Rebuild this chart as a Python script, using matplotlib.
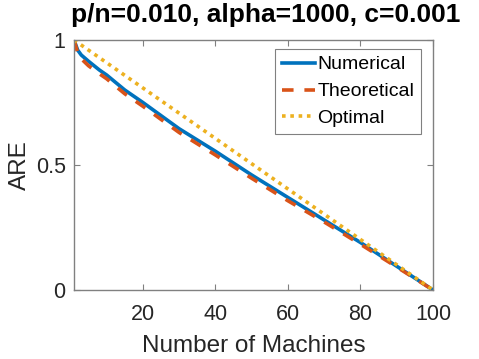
import matplotlib
matplotlib.use('Agg')
import matplotlib.pyplot as plt

# values
machines = [1, 2, 3, 5, 8, 10, 15, 20, 30, 40, 50, 60, 70, 80, 90, 100]
numerical = [1.0, 0.96, 0.94, 0.915, 0.88, 0.86, 0.80, 0.75, 0.645, 0.555,
             0.46, 0.37, 0.28, 0.19, 0.095, 0.0]
theoretical = [1.0, 0.95, 0.925, 0.897, 0.865, 0.845, 0.785, 0.735, 0.63, 0.54,
               0.447, 0.357, 0.272, 0.183, 0.092, 0.0]
optimal_x = [1, 100]
optimal_y = [1.0, 0.0]
xticks = [20, 40, 60, 80, 100]
yticks = [0, 0.5, 1]
yticklabels = ['0', '0.5', '1']

plt.rcParams['font.family'] = ['Liberation Sans', 'DejaVu Sans']

fig = plt.figure(figsize=(4.79, 3.59), dpi=100)
ax = fig.add_axes([74 / 479, 1 - 290 / 359, 359 / 479, 250 / 359])

ax.plot(machines, numerical, color='#0072BD', lw=2.6, label='Numerical')
ax.plot(machines, theoretical, color='#D95319', lw=2.6, dashes=(3.2, 3.0),
        label='Theoretical')
ax.plot(optimal_x, optimal_y, color='#EDB120', lw=2.6, dashes=(1.0, 1.3),
        label='Optimal')

ax.set_xlim(1, 100)
ax.set_ylim(0, 1)
ax.set_xticks(xticks)
ax.set_yticks(yticks)
ax.set_yticklabels(yticklabels)
ax.tick_params(direction='in', top=True, right=True, length=4, width=0.8,
               colors='#808080', labelcolor='#262626', labelsize=15.5)
ax.tick_params(axis='x', pad=10)
ax.tick_params(axis='y', pad=6)
for s in ax.spines.values():
    s.set_color('#808080')
    s.set_linewidth(1.0)

ax.set_xlabel('Number of Machines', fontsize=17.5, color='#262626')
ax.set_ylabel('ARE', fontsize=17.5, color='#262626')
ax.xaxis.set_label_coords(0.5, -0.18)
ax.yaxis.set_label_coords(-0.12, 0.5)

fig.text(0.555, 1 - 15 / 359, 'p/n=0.010, alpha=1000, c=0.001',
         ha='center', va='center', fontsize=19, fontweight='bold')

leg = ax.legend(loc='upper right', bbox_to_anchor=(0.967, 0.964),
                borderaxespad=0, fontsize=14, handlelength=1.7,
                handletextpad=0.15, labelspacing=0.48, borderpad=0.35,
                fancybox=False, framealpha=1)
leg.get_frame().set_edgecolor('#808080')
leg.get_frame().set_linewidth(0.8)

fig.savefig('out.png', dpi=100)
